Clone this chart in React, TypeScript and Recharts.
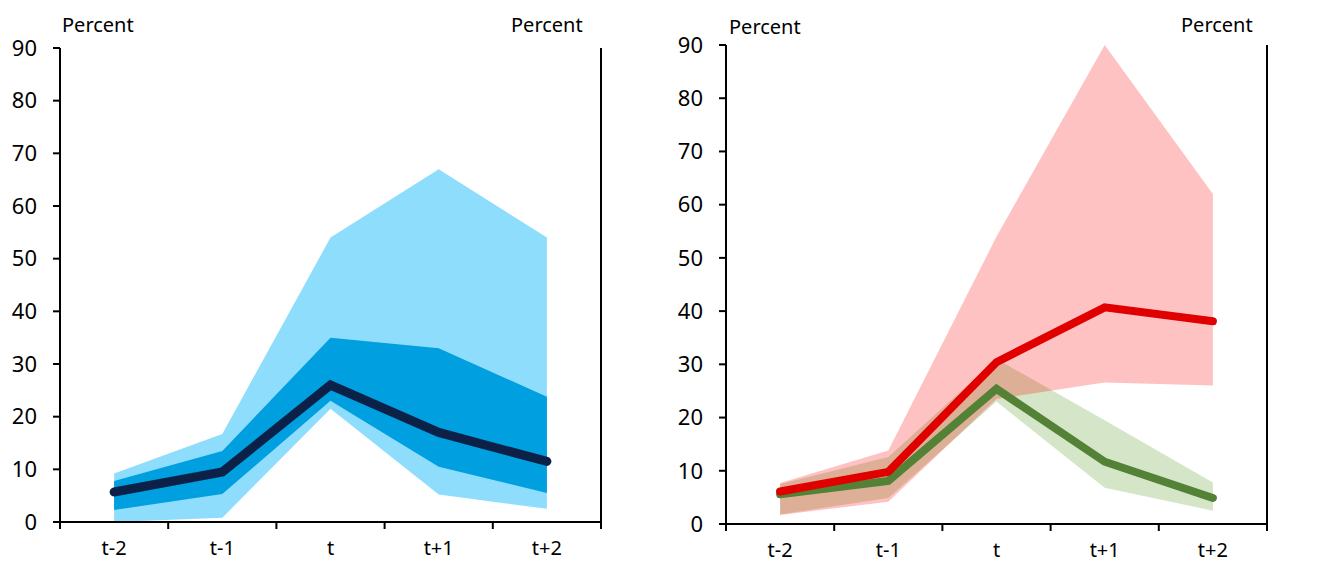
import { ComposedChart, Area, Line, XAxis, YAxis } from 'recharts';

const categories = ['t-2', 't-1', 't', 't+1', 't+2'];
const yTicks = [0, 10, 20, 30, 40, 50, 60, 70, 80, 90];
const xTicks = [0, 0.5, 1, 1.5, 2, 2.5, 3, 3.5, 4, 4.5, 5];

// left panel
const blueOuterLow = [0, 0.8, 21.5, 5.2, 2.5];
const blueOuterHigh = [9.2, 16.7, 54, 67, 54];
const blueInnerLow = [2.3, 5.3, 23, 10.5, 5.5];
const blueInnerHigh = [7.8, 13.5, 35, 33, 23.8];
const blueLine = [5.7, 9.5, 26, 17, 11.5];

// right panel
const redLow = [1.7, 4.2, 23.5, 26.6, 26];
const redHigh = [7.7, 13.8, 54, 90, 62];
const redLine = [6.1, 9.8, 30.4, 40.7, 38.1];
const greenLow = [1.8, 4.9, 23, 6.8, 2.5];
const greenHigh = [7.5, 12.6, 31, 19.5, 7.8];
const greenLine = [5.6, 8.1, 25.4, 11.7, 4.9];

const leftData = categories.map((c, i) => ({
  x: i + 0.5,
  outer: [blueOuterLow[i], blueOuterHigh[i]],
  inner: [blueInnerLow[i], blueInnerHigh[i]],
  mid: blueLine[i],
}));

const rightData = categories.map((c, i) => ({
  x: i + 0.5,
  red: [redLow[i], redHigh[i]],
  green: [greenLow[i], greenHigh[i]],
  redMid: redLine[i],
  greenMid: greenLine[i],
}));

const tickStyle = { fontSize: 22, fill: '#000' };

const XTick = (props: any) => {
  const { x, y, payload } = props;
  const v = payload.value;
  if (Number.isInteger(v)) {
    return <line x1={x} x2={x} y1={y} y2={y + 7} stroke="#000" strokeWidth={2} />;
  }
  return (
    <text x={x} y={y + 33} textAnchor="middle" fontSize={20} fill="#000">
      {categories[Math.floor(v)]}
    </text>
  );
};

function Axes({ rightWidth, rightMargin, xHeight }: { rightWidth: number; rightMargin: number; xHeight: number }) {
  return (
    <>
      <XAxis
        type="number"
        dataKey="x"
        domain={[0, 5]}
        ticks={xTicks}
        interval={0}
        tickLine={false}
        tickSize={0}
        tickMargin={0}
        tick={<XTick />}
        height={xHeight}
        axisLine={{ stroke: '#000', strokeWidth: 2 }}
      />
      <YAxis
        yAxisId="left"
        domain={[0, 90]}
        ticks={yTicks}
        width={60}
        tickSize={7}
        tickMargin={16}
        tick={tickStyle}
        axisLine={{ stroke: '#000', strokeWidth: 2 }}
        tickLine={{ stroke: '#000', strokeWidth: 2 }}
        interval={0}
      />
      <YAxis
        yAxisId="right"
        orientation="right"
        domain={[0, 90]}
        ticks={yTicks}
        width={rightWidth}
        tickSize={7}
        tickMargin={rightMargin}
        tick={{ ...tickStyle, textAnchor: 'start' }}
        axisLine={{ stroke: '#000', strokeWidth: 2 }}
        tickLine={{ stroke: '#000', strokeWidth: 2 }}
        interval={0}
      />
    </>
  );
}

const labelStyle: React.CSSProperties = { position: 'absolute', fontSize: 20, lineHeight: '20px', color: '#000' };

export default function App() {
  return (
    <div style={{ position: 'absolute', left: 0, top: 0, width: 1317, height: 563, background: '#fff', fontFamily: '"Noto Sans", sans-serif' }}>
      <span style={{ ...labelStyle, left: 62, top: 15 }}>Percent</span>
      <span style={{ ...labelStyle, left: 511, top: 15 }}>Percent</span>
      <span style={{ ...labelStyle, left: 729, top: 17 }}>Percent</span>
      <span style={{ ...labelStyle, left: 1181, top: 15 }}>Percent</span>

      <div style={{ position: 'absolute', left: 0, top: 0 }}>
        <ComposedChart width={660} height={563} data={leftData} margin={{ top: 48, right: 0, left: 0, bottom: 0 }}>
          {Axes({ rightWidth: 59, rightMargin: 14, xHeight: 41 })}
          <Area yAxisId="left" type="linear" dataKey="outer" stroke="none" fill="#8EDDFC" fillOpacity={1} isAnimationActive={false} />
          <Area yAxisId="left" type="linear" dataKey="inner" stroke="none" fill="#009FDF" fillOpacity={1} isAnimationActive={false} />
          <Line yAxisId="left" type="linear" dataKey="mid" stroke="#0C2148" strokeWidth={9} strokeLinecap="round" dot={false} isAnimationActive={false} />
        </ComposedChart>
      </div>

      <div style={{ position: 'absolute', left: 666, top: 0 }}>
        <ComposedChart width={651} height={563} data={rightData} margin={{ top: 45, right: 0, left: 0, bottom: 0 }}>
          {Axes({ rightWidth: 50, rightMargin: 15, xHeight: 39 })}
          <Area yAxisId="left" type="linear" dataKey="green" stroke="none" fill="#70AD47" fillOpacity={0.3} isAnimationActive={false} />
          <Area yAxisId="left" type="linear" dataKey="red" stroke="none" fill="#FF0000" fillOpacity={0.24} isAnimationActive={false} />
          <Line yAxisId="left" type="linear" dataKey="greenMid" stroke="#538135" strokeWidth={8} strokeLinecap="round" dot={false} isAnimationActive={false} />
          <Line yAxisId="left" type="linear" dataKey="redMid" stroke="#E00000" strokeWidth={8} strokeLinecap="round" dot={false} isAnimationActive={false} />
        </ComposedChart>
      </div>
    </div>
  );
}
